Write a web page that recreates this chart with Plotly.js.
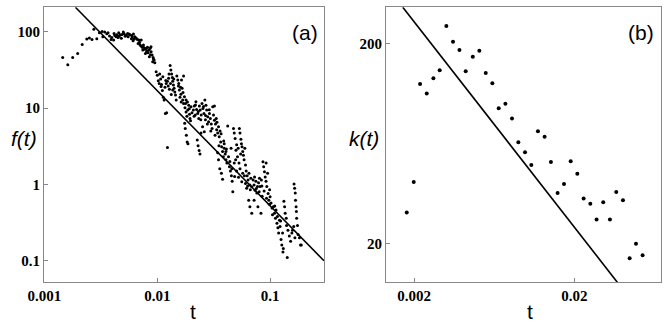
<!DOCTYPE html>
<html>
<head>
<meta charset="utf-8">
<script src="https://cdn.plot.ly/plotly-3.0.1.min.js"></script>
<style>
  html, body { margin: 0; padding: 0; background: #fff; }
  #root { width: 671px; height: 327px; }
</style>
</head>
<body>
<div id="root"></div>
<script>
// panel (a): f(t)
const tA = [
  0.00145, 0.00161, 0.00178, 0.00197, 0.00216, 0.00237, 0.00250, 0.00264, 0.00274, 0.00291, 0.00307, 0.00324, 0.00342,
  0.00357, 0.00377, 0.00395, 0.00414, 0.00432, 0.00450, 0.00469, 0.00488, 0.00508, 0.00530, 0.00552, 0.00574, 0.00594,
  0.00615, 0.00632, 0.00649, 0.00667, 0.00686, 0.00390, 0.00438, 0.00480, 0.00545, 0.00590, 0.00610, 0.00500, 0.00455,
  0.00366, 0.00329, 0.00410,
  0.00676, 0.00695, 0.00714, 0.00734, 0.00754, 0.00775, 0.00796, 0.00813, 0.00830, 0.00847, 0.00864, 0.00882, 0.00900,
  0.00919, 0.00938, 0.00951, 0.00744, 0.00785, 0.00818, 0.00850, 0.00880, 0.00910, 0.00720,
  0.00977, 0.0100, 0.0102, 0.0104, 0.0107, 0.0109, 0.0112, 0.0113, 0.0115, 0.0117, 0.0118, 0.0121, 0.0120, 0.0123,
  0.0125, 0.0128, 0.0130, 0.0132, 0.0134, 0.0136, 0.0137, 0.0139, 0.0141, 0.0143, 0.0145, 0.0147, 0.0123, 0.0108,
  0.0126, 0.0131, 0.0137,
  0.0149, 0.0152, 0.0154, 0.0157, 0.0159, 0.0162, 0.0166, 0.0168, 0.0171, 0.0174, 0.0176, 0.0180, 0.0183, 0.0186,
  0.0190, 0.0193, 0.0195, 0.0199, 0.0203, 0.0175, 0.0177, 0.0181, 0.0184, 0.0187, 0.0161, 0.0164, 0.0171, 0.0180,
  0.0209, 0.0213, 0.0217, 0.0220, 0.0223, 0.0228, 0.0233, 0.0236, 0.0240, 0.0245, 0.0249, 0.0254, 0.0259, 0.0264,
  0.0270, 0.0274, 0.0280, 0.0285, 0.0290, 0.0295, 0.0301, 0.0306, 0.0226, 0.0230, 0.0235, 0.0239, 0.0244, 0.0252,
  0.0261, 0.0310, 0.0321, 0.0267,
  0.0315, 0.0321, 0.0328, 0.0333, 0.0336, 0.0343, 0.0349, 0.0354, 0.0360, 0.0365, 0.0372, 0.0379, 0.0385, 0.0392,
  0.0400, 0.0406, 0.0414, 0.0421, 0.0428, 0.0436, 0.0445, 0.0454, 0.0461, 0.0343, 0.0349, 0.0358, 0.0370, 0.0379,
  0.0392, 0.0406, 0.0451,
  0.0474, 0.0481, 0.0490, 0.0498, 0.0505, 0.0514, 0.0521, 0.0534, 0.0541, 0.0551, 0.0557, 0.0564, 0.0572, 0.0580,
  0.0588, 0.0597, 0.0605, 0.0614, 0.0626, 0.0638, 0.0650, 0.0662, 0.0675, 0.0688, 0.0467, 0.0481, 0.0505, 0.0525,
  0.0541, 0.0561, 0.0572, 0.0605, 0.0620, 0.0485,
  0.0707, 0.0721, 0.0735, 0.0748, 0.0762, 0.0773, 0.0790, 0.0800, 0.0816, 0.0837, 0.0850, 0.0864, 0.0877, 0.0892,
  0.0905, 0.0920, 0.0922, 0.0935, 0.0950, 0.0960, 0.0975, 0.0990, 0.1000, 0.1020, 0.1040, 0.0646, 0.0662, 0.0688,
  0.0780, 0.0830, 0.0721,
  0.1067, 0.1093, 0.1115, 0.1130, 0.1150, 0.1172, 0.1190, 0.1210, 0.1225, 0.1250, 0.1270, 0.1290, 0.1310, 0.1325,
  0.1345, 0.1360, 0.1390, 0.1400, 0.1420, 0.1440, 0.1480, 0.1520, 0.1560, 0.1580, 0.1300,
  0.1630, 0.1650, 0.1670, 0.1680, 0.1700, 0.1710, 0.1720, 0.1750, 0.1770, 0.1820, 0.1860, 0.1890, 0.1620, 0.1660,
  // extra points in the dense part of the cloud
  0.00420, 0.00460, 0.00520, 0.00560, 0.00625, 0.00600, 0.00700, 0.00760, 0.00805, 0.00870, 0.00925,
  0.0105, 0.0111, 0.0119, 0.0127, 0.0133, 0.0140, 0.0155, 0.0163, 0.0169, 0.0178, 0.0185, 0.0192, 0.0197,
  0.0212, 0.0218, 0.0231, 0.0243, 0.0257, 0.0268, 0.0278, 0.0289, 0.0298,
  0.0325, 0.0338, 0.0352, 0.0368, 0.0388, 0.0410, 0.0440, 0.0458,
  0.0495, 0.0530, 0.0548, 0.0592, 0.0632, 0.0668,
  0.0728, 0.0755, 0.0805, 0.0845, 0.0885, 0.0930, 0.0985,
  0.1050, 0.1100, 0.1160, 0.1240
];
const fA = [
  46, 37, 46, 52, 68, 80, 83, 79, 108, 81, 97, 101, 99,
  94, 88, 84, 95, 86, 84, 91, 92, 94, 90, 86, 91, 89,
  93, 86, 83, 79, 78, 79, 91, 82, 95, 81, 76, 99, 97,
  97, 86, 78,
  70, 73, 65.5, 62.4, 66.9, 58.7, 60.5, 56.3, 53.1, 57.5, 60.5, 54.7, 49.5,
  46.1, 42.5, 39.3, 57.5, 52, 62.4, 47, 63.6, 40.5, 78,
  29.9, 26.8, 22.8, 21.0, 24.0, 20.4, 25.7, 13.8, 12.7, 18.7, 8.5, 8.7, 21, 22.4,
  19.4, 17.6, 36.2, 31.4, 27.9, 25.2, 22.4, 20.0, 18.1, 16.2, 14.8, 12.7, 3.05, 19.1,
  24.5, 21, 17.2,
  26.3, 23.3, 19.4, 17.2, 13.8, 15.2, 18.1, 12.7, 11.5, 14.1, 10.1, 8.9, 7.8, 9.4,
  10.9, 8.3, 7.3, 10.4, 8.7, 6.3, 5.4, 4.4, 3.6, 3.4, 18.7, 23.3, 26.3, 12.7,
  9.4, 10.6, 8.1, 12.1, 9.6, 8.5, 7.3, 10.6, 9.4, 8.1, 11.5, 9.9, 8.5, 12.7,
  10.9, 9.4, 7.7, 6.6, 8.5, 7.3, 6.2, 5.4, 3.8, 3.2, 2.77, 2.5, 4.7, 5.7,
  4.9, 10.4, 10.6, 7.0,
  8.1, 6.9, 6.2, 7.3, 5.2, 4.7, 5.7, 4.2, 5.0, 3.6, 3.1, 2.7, 2.3, 2.97,
  2.5, 2.1, 1.9, 5.8, 2.3, 1.7, 1.5, 1.3, 1.1, 2.6, 2.1, 1.6, 1.4, 1.17,
  3.4, 2.7, 2.97,
  5.4, 4.7, 4.0, 2.8, 3.3, 2.3, 2.97, 5.4, 4.7, 3.9, 3.4, 3.1, 2.7, 2.4,
  2.1, 2.97, 1.8, 1.5, 1.3, 1.14, 1.4, 0.98, 1.2, 0.93, 0.8, 1.9, 1.5, 1.24,
  1.6, 1.08, 1.4, 1.03, 0.89, 1.27,
  1.14, 0.98, 0.84, 1.1, 0.77, 0.94, 1.05, 0.8, 0.94, 1.14, 0.7, 1.98, 1.7, 1.46,
  1.25, 1.1, 1.9, 0.94, 1.4, 0.76, 0.62, 0.85, 0.69, 0.57, 0.49, 0.62, 0.51, 0.42,
  0.51, 0.42, 0.62,
  0.51, 0.42, 0.36, 0.46, 0.31, 0.27, 0.23, 0.34, 0.28, 0.19, 0.16, 0.23, 0.145, 0.60,
  0.51, 0.42, 0.36, 0.29, 0.11, 0.25, 0.21, 0.18, 0.23, 0.25, 0.13,
  1.01, 0.89, 0.77, 0.62, 0.51, 0.44, 0.36, 0.29, 0.22, 0.20, 0.16, 0.16, 0.28, 0.2,
  89, 88, 87, 93, 80, 85, 68, 62, 55, 50, 44,
  28, 17, 23, 28, 15, 24, 21, 12, 16, 11.5, 12, 9.8, 6.8,
  7.8, 11, 9.0, 7.0, 10.5, 8.0, 6.2, 9.5, 5.0,
  4.4, 6.5, 3.2, 4.6, 3.7, 2.9, 2.0, 1.6,
  2.1, 1.9, 2.5, 1.3, 0.95, 0.85,
  1.25, 0.88, 1.2, 0.95, 0.82, 0.66, 0.55,
  0.4, 0.52, 0.38, 0.33
];
// fitted power law in (a), two end points
const tLineA = [0.00188, 0.3];
const fLineA = [209, 0.1];

// panel (b): k(t)
const tB = [
  0.00180, 0.00199, 0.00218, 0.00240, 0.00264, 0.00289, 0.00318, 0.00350, 0.00384, 0.00420,
  0.00465, 0.00511, 0.00560, 0.00616, 0.00675, 0.00743, 0.00817, 0.00895, 0.00985, 0.01078,
  0.01186, 0.01305, 0.01429, 0.01573, 0.01725, 0.01899, 0.02088, 0.02287, 0.02517, 0.02754,
  0.03031, 0.03337, 0.03655, 0.04024, 0.04430, 0.04852, 0.05338
];
const kB = [
  28.6, 40.6, 125.3, 112.5, 133.7, 146.6, 244, 203.8, 185.2, 144.9,
  171.6, 183.6, 142.2, 126.3, 94.8, 100, 84.2, 64.1, 57.2, 49.4,
  72.8, 68.4, 51.1, 35.8, 39.7, 51.5, 44.6, 33.6, 31.6, 26.4,
  32.2, 26.4, 36.2, 32.9, 16.9, 20.0, 17.5
];
const tLineB = [0.0017, 0.0372];
const kLineB = [303, 12.8];

const ticksAx = [0.001, 0.01, 0.1];
const ticksAy = [0.1, 1, 10, 100];
const ticksBx = [0.002, 0.02];
const ticksBy = [20, 200];

var tickFont = {family: 'Liberation Serif, Times New Roman, serif', size: 15, color: '#000', weight: 'bold'};
var titleFont = {family: 'Liberation Sans, Arial, sans-serif', size: 21, color: '#000'};

function axis(domain, range, vals, anchor) {
  return {
    type: 'log',
    domain: domain,
    range: range,
    anchor: anchor,
    tickvals: vals,
    ticktext: vals.map(String),
    ticks: 'inside',
    ticklen: 4,
    tickcolor: '#888',
    showline: true,
    mirror: true,
    linecolor: '#888',
    linewidth: 1,
    showgrid: false,
    zeroline: false,
    tickfont: tickFont
  };
}

// text placed at pixel centre (px, py) of the 671x327 page
function label(text, px, py) {
  return {text: text, xref: 'paper', yref: 'paper', x: px / 671, y: 1 - py / 327,
          xanchor: 'center', yanchor: 'middle', showarrow: false, font: titleFont};
}

var data = [
  {x: tA, y: fA, xaxis: 'x', yaxis: 'y', mode: 'markers', type: 'scatter',
   marker: {color: '#000', size: 3}},
  {x: tLineA, y: fLineA, xaxis: 'x', yaxis: 'y', mode: 'lines', type: 'scatter',
   line: {color: '#000', width: 1.6}},
  {x: tB, y: kB, xaxis: 'x2', yaxis: 'y2', mode: 'markers', type: 'scatter',
   marker: {color: '#000', size: 4}},
  {x: tLineB, y: kLineB, xaxis: 'x2', yaxis: 'y2', mode: 'lines', type: 'scatter',
   line: {color: '#000', width: 1.6}}
];

var xa = axis([0.0656, 0.4829], [-3.004, -0.522], ticksAx, 'y');
var ya = axis([0.1367, 0.9777], [-1.283, 2.32], ticksAy, 'x');
var xb = axis([0.5753, 0.9846], [-2.874, -1.160], ticksBx, 'y2');
var yb = axis([0.1367, 0.9777], [1.108, 2.481], ticksBy, 'x2');

var layout = {
  width: 671,
  height: 327,
  margin: {l: 0, r: 0, t: 0, b: 0},
  paper_bgcolor: '#fff',
  plot_bgcolor: '#fff',
  showlegend: false,
  xaxis: xa, yaxis: ya, xaxis2: xb, yaxis2: yb,
  annotations: [
    label('t', 193, 311),
    label('t', 530, 311),
    label('<i>f(t)</i>', 24, 138),
    label('<i>k(t)</i>', 364, 138),
    label('(a)', 305, 32),
    label('(b)', 641, 32)
  ]
};

Plotly.newPlot('root', data, layout, {staticPlot: true});
</script>
</body>
</html>
